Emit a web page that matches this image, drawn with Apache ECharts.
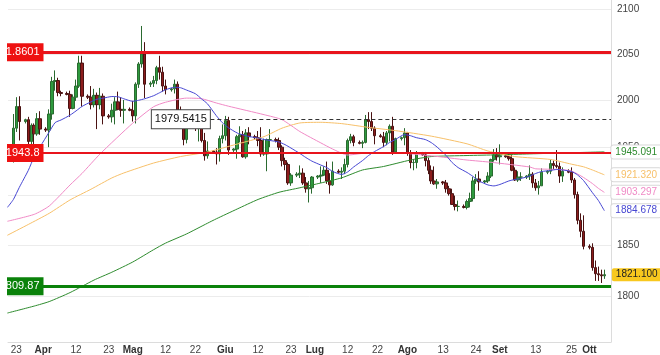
<!DOCTYPE html>
<html><head><meta charset="utf-8">
<script src="https://cdn.jsdelivr.net/npm/echarts@6/dist/echarts.min.js"></script>
<style>html,body{margin:0;padding:0;background:#fff}#c{width:660px;height:355px}</style>
</head><body><div id="c"></div>
<script>
// ---------- candle data (daily, with short Sunday sessions) ----------
const dates = [
'2023-03-22','2023-03-23','2023-03-24','2023-03-26','2023-03-27','2023-03-28','2023-03-29','2023-03-30','2023-03-31',
'2023-04-02','2023-04-03','2023-04-04','2023-04-05','2023-04-06','2023-04-07',
'2023-04-09','2023-04-10','2023-04-11','2023-04-12','2023-04-13','2023-04-14',
'2023-04-16','2023-04-17','2023-04-18','2023-04-19','2023-04-20','2023-04-21',
'2023-04-23','2023-04-24','2023-04-25','2023-04-26','2023-04-27','2023-04-28',
'2023-04-30','2023-05-01','2023-05-02','2023-05-03','2023-05-04','2023-05-05',
'2023-05-07','2023-05-08','2023-05-09','2023-05-10','2023-05-11','2023-05-12',
'2023-05-14','2023-05-15','2023-05-16','2023-05-17','2023-05-18','2023-05-19',
'2023-05-21','2023-05-22','2023-05-23','2023-05-24','2023-05-25','2023-05-26',
'2023-05-28','2023-05-29','2023-05-30','2023-05-31','2023-06-01','2023-06-02',
'2023-06-04','2023-06-05','2023-06-06','2023-06-07','2023-06-08','2023-06-09',
'2023-06-11','2023-06-12','2023-06-13','2023-06-14','2023-06-15','2023-06-16',
'2023-06-18','2023-06-19','2023-06-20','2023-06-21','2023-06-22','2023-06-23',
'2023-06-25','2023-06-26','2023-06-27','2023-06-28','2023-06-29','2023-06-30',
'2023-07-02','2023-07-03','2023-07-04','2023-07-05','2023-07-06','2023-07-07',
'2023-07-09','2023-07-10','2023-07-11','2023-07-12','2023-07-13','2023-07-14',
'2023-07-16','2023-07-17','2023-07-18','2023-07-19','2023-07-20','2023-07-21',
'2023-07-23','2023-07-24','2023-07-25','2023-07-26','2023-07-27','2023-07-28',
'2023-07-30','2023-07-31','2023-08-01','2023-08-02','2023-08-03','2023-08-04',
'2023-08-06','2023-08-07','2023-08-08','2023-08-09','2023-08-10','2023-08-11',
'2023-08-13','2023-08-14','2023-08-15','2023-08-16','2023-08-17','2023-08-18',
'2023-08-20','2023-08-21','2023-08-22','2023-08-23','2023-08-24','2023-08-25',
'2023-08-27','2023-08-28','2023-08-29','2023-08-30','2023-08-31','2023-09-01',
'2023-09-03','2023-09-04','2023-09-05','2023-09-06','2023-09-07','2023-09-08',
'2023-09-10','2023-09-11','2023-09-12','2023-09-13','2023-09-14','2023-09-15',
'2023-09-17','2023-09-18','2023-09-19','2023-09-20','2023-09-21','2023-09-22',
'2023-09-24','2023-09-25','2023-09-26','2023-09-27','2023-09-28','2023-09-29',
'2023-10-01','2023-10-02','2023-10-03','2023-10-04','2023-10-05','2023-10-06'
];
const opens = [
1940,1970,1993,1977,1979,1956,1973,1964,1980,
1969,1968,1985,2020,2021,2008,
2007,2006,1991,2003,2015,2040,
2004,2003,1995,2005,1995,2004,
1983,1982,1989,1998,1990,1989,
1990,1989,1983,2017,2039,2050,
2017,2018,2021,2035,2030,2015,
2011,2012,2017,1989,1982,1958,
1977,1976,1971,1975,1957,1941,
1946,1945,1943,1959,1962,1978,
1947,1948,1961,1963,1940,1965,
1961,1960,1957,1943,1943,1958,
1958,1957,1950,1936,1932,1913,
1921,1922,1923,1913,1907,1908,
1919,1920,1921,1926,1915,1911,
1925,1924,1925,1932,1957,1961,
1955,1954,1955,1979,1977,1970,
1962,1961,1955,1965,1972,1945,
1959,1960,1965,1944,1934,1934,
1943,1942,1936,1926,1915,1912,
1914,1913,1907,1902,1891,1889,
1889,1888,1894,1897,1915,1917,
1914,1915,1920,1937,1942,1940,
1941,1940,1938,1926,1916,1919,
1919,1920,1922,1913,1908,1910,
1924,1925,1933,1931,1930,1920,
1925,1924,1916,1901,1875,1864,
1849,1848,1828,1822,1821,1820
];
const highs = [
1985,2003,2004,1980,1982,1975,1975,1986,1988,
1971,1990,2025,2032,2024,2010,
2009,2010,2006,2022,2048,2048,
2006,2015,2012,2008,2013,2007,
1985,1996,2003,2009,2003,2000,
1992,1999,2019,2041,2081,2063,
2020,2026,2037,2048,2036,2022,
2013,2022,2020,1993,1985,1985,
1979,1983,1984,1985,1965,1956,
1947,1949,1962,1974,1983,1982,
1949,1963,1972,1967,1969,1971,
1963,1967,1971,1959,1959,1969,
1960,1960,1952,1939,1934,1923,
1924,1931,1928,1919,1915,1920,
1921,1930,1930,1935,1923,1935,
1927,1929,1938,1959,1964,1963,
1957,1957,1984,1987,1987,1972,
1964,1966,1967,1974,1982,1960,
1961,1970,1966,1947,1937,1946,
1945,1945,1939,1931,1930,1917,
1915,1916,1910,1907,1900,1895,
1891,1896,1903,1919,1922,1925,
1916,1924,1938,1948,1949,1953,
1942,1943,1942,1929,1925,1924,
1921,1931,1924,1917,1915,1928,
1926,1937,1936,1947,1934,1929,
1927,1929,1918,1904,1882,1880,
1851,1852,1835,1829,1826,1826
];
const lows = [
1934,1966,1957,1975,1944,1949,1950,1962,1963,
1966,1950,1979,2010,2004,2004,
2005,1982,1990,1999,2013,1993,
2001,1990,1992,1969,1990,1974,
1980,1976,1974,1989,1982,1975,
1988,1977,1975,2013,2035,2002,
2014,2014,2017,2022,2009,2006,
2009,2007,1985,1971,1952,1954,
1974,1967,1956,1955,1936,1938,
1943,1932,1935,1954,1957,1942,
1945,1938,1955,1939,1938,1953,
1958,1951,1940,1941,1925,1950,
1955,1947,1930,1926,1911,1910,
1919,1918,1911,1903,1893,1902,
1917,1913,1920,1912,1902,1910,
1923,1917,1922,1929,1954,1951,
1953,1949,1954,1969,1967,1953,
1960,1950,1952,1956,1942,1943,
1957,1952,1941,1928,1926,1928,
1941,1930,1922,1912,1911,1907,
1911,1903,1900,1891,1885,1884,
1887,1886,1888,1894,1912,1905,
1912,1913,1918,1935,1936,1932,
1939,1936,1925,1915,1914,1915,
1917,1916,1908,1905,1901,1910,
1922,1922,1927,1928,1913,1914,
1923,1913,1897,1871,1858,1846,
1846,1825,1815,1815,1813,1817
];
const closes = [
1970,1993,1977,1979,1956,1973,1964,1980,1969,
1968,1985,2020,2021,2008,2007,
2006,1991,2003,2015,2040,2004,
2003,1995,2005,1995,2004,1983,
1982,1989,1998,1990,1989,1990,
1989,1983,2017,2039,2050,2017,
2018,2021,2035,2030,2015,2011,
2012,2017,1989,1982,1958,1977,
1976,1971,1975,1957,1941,1946,
1945,1943,1959,1962,1978,1947,
1948,1961,1963,1940,1965,1961,
1960,1957,1943,1943,1958,1958,
1957,1950,1936,1932,1913,1921,
1922,1923,1913,1907,1908,1919,
1920,1921,1926,1915,1911,1925,
1924,1925,1932,1957,1961,1955,
1954,1955,1979,1977,1970,1962,
1961,1955,1965,1972,1945,1959,
1960,1965,1944,1934,1934,1943,
1942,1936,1926,1915,1912,1914,
1913,1907,1902,1891,1889,1889,
1888,1894,1897,1915,1917,1914,
1915,1920,1937,1942,1940,1941,
1940,1938,1926,1916,1919,1919,
1920,1922,1913,1908,1910,1924,
1925,1933,1931,1930,1920,1925,
1924,1916,1901,1875,1864,1849,
1848,1828,1822,1821,1820,1821.1
];

// ---------- moving averages ----------
const maBlue = [['2023-03-20',1888],['2023-03-22',1896],['2023-03-24',1908.4],['2023-03-27',1925.8],['2023-03-29',1940.2],['2023-03-31',1950.6],['2023-04-03',1965.9],['2023-04-05',1975.9],['2023-04-07',1978.7],['2023-04-10',1983.8],['2023-04-12',1988.3],['2023-04-14',1993.1],['2023-04-17',1998],['2023-04-19',2000.8],['2023-04-21',2001.9],['2023-04-24',2003.7],['2023-04-26',2003.5],['2023-04-28',2001.3],['2023-05-01',1998.6],['2023-05-03',1999.7],['2023-05-05',2001.3],['2023-05-08',2004.6],['2023-05-10',2007.8],['2023-05-12',2011],['2023-05-15',2013.7],['2023-05-17',2013.2],['2023-05-19',2010.7],['2023-05-22',2006.7],['2023-05-24',2001.3],['2023-05-26',1996],['2023-05-29',1983.2],['2023-05-31',1975.9],['2023-06-02',1970.6],['2023-06-05',1964.9],['2023-06-07',1962.8],['2023-06-09',1961.2],['2023-06-12',1959.6],['2023-06-14',1958],['2023-06-16',1957],['2023-06-19',1955.4],['2023-06-21',1952.7],['2023-06-23',1949.1],['2023-06-26',1943.4],['2023-06-28',1939.2],['2023-06-30',1935.5],['2023-07-03',1931.4],['2023-07-05',1928.8],['2023-07-07',1924.7],['2023-07-10',1921.7],['2023-07-12',1924.3],['2023-07-14',1929.4],['2023-07-17',1936.1],['2023-07-19',1941.3],['2023-07-21',1945.4],['2023-07-24',1950.6],['2023-07-26',1954.8],['2023-07-28',1958],['2023-07-31',1963.2],['2023-08-02',1962.1],['2023-08-04',1960],['2023-08-07',1958],['2023-08-09',1954.8],['2023-08-11',1950],['2023-08-14',1941.3],['2023-08-16',1934],['2023-08-18',1928.8],['2023-08-21',1923.7],['2023-08-23',1919.6],['2023-08-25',1915],['2023-08-28',1910.9],['2023-08-30',1909.9],['2023-09-01',1911.4],['2023-09-04',1915],['2023-09-06',1916.5],['2023-09-08',1917.5],['2023-09-11',1920.1],['2023-09-13',1922.7],['2023-09-15',1924.7],['2023-09-18',1925.8],['2023-09-20',1926.8],['2023-09-22',1926.3],['2023-09-25',1924.7],['2023-09-27',1921.2],['2023-09-29',1915.5],['2023-10-02',1903],['2023-10-04',1895],['2023-10-06',1884.678]];
const maPink = [['2023-03-20',1874],['2023-03-29',1881],['2023-04-03',1889.4],['2023-04-10',1910.9],['2023-04-14',1922.7],['2023-04-20',1942.8],['2023-05-01',1975.3],['2023-05-08',1992.8],['2023-05-12',1997.6],['2023-05-19',2002],['2023-05-24',2001.4],['2023-05-29',1996.8],['2023-06-02',1993.4],['2023-06-14',1984.3],['2023-06-20',1979],['2023-06-26',1966.4],['2023-07-03',1954.5],['2023-07-07',1948],['2023-07-12',1941.8],['2023-07-19',1944.1],['2023-07-28',1944.1],['2023-08-09',1941],['2023-08-21',1936.6],['2023-08-29',1934.3],['2023-09-11',1929.4],['2023-09-13',1927.5],['2023-09-21',1926.8],['2023-09-25',1925.2],['2023-09-29',1918.6],['2023-10-02',1912.3],['2023-10-04',1907.4],['2023-10-06',1903.297]];
const maOrange = [['2023-03-20',1860],['2023-03-27',1870.8],['2023-04-03',1882],['2023-04-10',1895.6],['2023-04-17',1906.5],['2023-04-24',1918.1],['2023-04-28',1923.2],['2023-05-08',1933.5],['2023-05-17',1940.2],['2023-05-26',1944.9],['2023-06-05',1953.3],['2023-06-14',1961.1],['2023-06-20',1970],['2023-06-26',1975.5],['2023-07-03',1976.2],['2023-07-10',1974.8],['2023-07-19',1970.8],['2023-07-28',1967.4],['2023-08-09',1961.6],['2023-08-21',1953.5],['2023-08-28',1946],['2023-09-06',1940.2],['2023-09-18',1937.2],['2023-09-25',1932.3],['2023-09-29',1929.6],['2023-10-02',1926.3],['2023-10-04',1923.8],['2023-10-06',1921.32]];
const maGreen = [['2023-03-20',1784],['2023-03-29',1790.7],['2023-04-03',1795],['2023-04-10',1803.7],['2023-04-18',1815.8],['2023-04-24',1823.5],['2023-05-01',1833.5],['2023-05-08',1845.7],['2023-05-12',1852.2],['2023-05-19',1861.3],['2023-05-26',1872],['2023-05-29',1876.5],['2023-06-05',1886.4],['2023-06-12',1896.1],['2023-06-19',1903.4],['2023-06-26',1908],['2023-07-03',1912.9],['2023-07-10',1918.2],['2023-07-17',1926.3],['2023-07-24',1929.9],['2023-08-02',1936.6],['2023-08-09',1940.2],['2023-08-21',1941.3],['2023-08-31',1942],['2023-09-11',1943],['2023-09-25',1944.2],['2023-10-06',1945.091]];

// ---------- horizontal levels ----------
const levelTop = '2051.8601';
const levelMid = '1943.8';
const levelLow = '1809.87';
const levelDash = '1979.5415';
const levelDashStart = '2023-05-27';

// ---------- axes ----------
const xMinStr = '2023-03-20 05:00';
const xMaxStr = '2023-10-08 05:17';
const yMin = 1756.5, yMax = 2110.2;
const yTicks = [1800, 1850, 1900, 1950, 2000, 2050, 2100];
const xTickDates = ['2023-03-23','2023-04-01','2023-04-12','2023-04-23','2023-05-01','2023-05-12','2023-05-22','2023-06-01','2023-06-12','2023-06-23','2023-07-01','2023-07-12','2023-07-22','2023-08-01','2023-08-13','2023-08-24','2023-09-01','2023-09-13','2023-09-25','2023-10-01'];
const xTickLabels = ['23','Apr','12','23','Mag','12','22','Giu','12','23','Lug','12','22','Ago','13','24','Set','13','25','Ott'];

const FONT = '"Liberation Sans", Arial, Helvetica, sans-serif';
// local-time timestamp from 'YYYY-MM-DD' or 'YYYY-MM-DD hh:mm'
const toTs = s => { const [dp, tp] = s.split(' '); const [y,m,d] = dp.split('-').map(Number);
  const [hh,mm] = tp ? tp.split(':').map(Number) : [0,0]; return new Date(y, m-1, d, hh, mm).getTime(); };
const xTickTimes = xTickDates.map(toTs);
const xMin = toTs(xMinStr), xMax = toTs(xMaxStr);

const candleData = dates.map((d,i)=>[toTs(d), opens[i], closes[i], lows[i], highs[i]]);
const last = dates.length - 1;
const conv = arr => arr.map(p => [toTs(p[0]), p[1]]);

function maSeries(name, data, color) {
  return {
    name, type:'line', data:conv(data), showSymbol:false, smooth:0.2, silent:true, z:3,
    lineStyle:{color, width:1},
    endLabel:{show:true, distance:7, formatter:p=>p.value[1].toFixed(3), color,
      backgroundColor:'#fff', borderColor:'#d8d8d8', borderWidth:1, borderRadius:2,
      padding:[2,4,1,4], fontSize:10, fontFamily:FONT}
  };
}
function leftBox(bg, text){
  return {show:true, position:'start', distance:-35.5, color:'#fff', backgroundColor:bg,
    padding:[4,4,3,3], fontSize:11, fontFamily:FONT, formatter:()=>text};
}

const chart = echarts.init(document.getElementById('c'), null, {renderer:'canvas'});
chart.setOption({
  animation:false,
  grid:{left:8, right:49, top:0, bottom:12},
  xAxis:{
    type:'value', min:xMin, max:xMax, scale:true,
    axisLine:{show:true, lineStyle:{color:'#dcdcdc'}},
    axisTick:{show:false, customValues:xTickTimes}, splitLine:{show:false},
    axisLabel:{customValues:xTickTimes, margin:3, fontSize:10, fontFamily:FONT, color:'#444',
      formatter:v=>{ const i = xTickTimes.indexOf(v); if (i<0) return ''; const t = xTickLabels[i];
        return /^\d+$/.test(t) ? t : '{b|'+t+'}'; },
      rich:{b:{fontWeight:'bold', fontSize:10, fontFamily:FONT, color:'#333'}}}
  },
  yAxis:{
    type:'log', logBase:10, min:yMin, max:yMax, position:'right',
    axisLine:{show:true, lineStyle:{color:'#dcdcdc'}},
    axisTick:{show:false, customValues:yTicks},
    splitLine:{show:true, lineStyle:{color:'#ececec'}},
    axisLabel:{customValues:yTicks, margin:6, fontSize:10, fontFamily:FONT, color:'#444', formatter:v=>String(Math.round(v))}
  },
  graphic:[{type:'rect', left:0, top:0, shape:{width:7, height:343}, style:{fill:'#fff'}, z:1000, silent:true}],
  series:[
    maSeries('ma200', maGreen, '#2e8b2e'),
    maSeries('ma100', maOrange, '#f7c06a'),
    maSeries('ma50', maPink, '#f08ac6'),
    maSeries('ma20', maBlue, '#4646d2'),
    {
      type:'candlestick', data:candleData, encode:{x:0, y:[1,2,3,4]}, barWidth:3, z:2,
      itemStyle:{color:'#2e9a3e', color0:'#8c1c1c', borderColor:'#2a6a30', borderColor0:'#4a1212', borderWidth:1},
      markPoint:{symbol:'rect', symbolSize:1, itemStyle:{color:'rgba(0,0,0,0)'}, silent:true,
        data:[{coord:[toTs(dates[last]), closes[last]], value:closes[last]}],
        label:{show:true, position:'right', distance:7, formatter:p=>p.value.toFixed(3), color:'#222',
          backgroundColor:'#f8c81e', borderRadius:2, padding:[2,4,1,4], fontSize:10, fontFamily:FONT}},
      markLine:{silent:true, symbol:['none','none'], animation:false, precision:4,
        data:[
          {yAxis:+levelTop, lineStyle:{color:'#e8141c', width:3, type:'solid'}, label:leftBox('#ee1111', levelTop)},
          {yAxis:+levelMid, lineStyle:{color:'#e8141c', width:2, type:'solid'}, label:leftBox('#ee1111', levelMid)},
          {yAxis:+levelLow, lineStyle:{color:'#0a820a', width:3, type:'solid'}, label:leftBox('#0a820a', levelLow)},
          [{coord:[toTs(levelDashStart), +levelDash], lineStyle:{color:'#333', width:1, type:[4,3]},
            label:{show:true, position:'start', distance:0.5, color:'#111', backgroundColor:'#fff',
              borderColor:'#444', borderWidth:1, padding:[4,3,3,3], fontSize:11, fontFamily:FONT,
              formatter:()=>levelDash}},
           {coord:[xMax, +levelDash]}]
        ]}
    }
  ]
});
</script></body></html>
